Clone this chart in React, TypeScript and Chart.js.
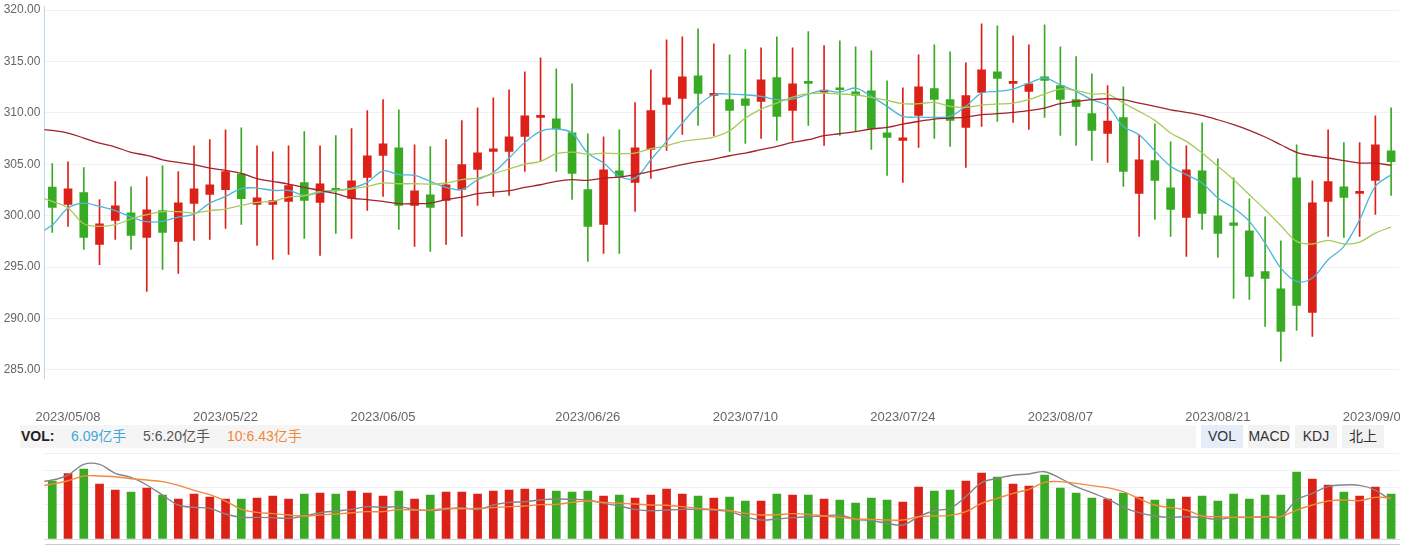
import React, { useEffect, useRef } from 'react';
import { Chart, registerables } from 'chart.js';

Chart.register(...registerables);

// ---------- data ----------
const DATE_TICK_INDEX = [1, 11, 21, 34, 44, 54, 64, 74, 84];
const DATE_LABELS = ['2023/05/08', '2023/05/22', '2023/06/05', '2023/06/26', '2023/07/10', '2023/07/24', '2023/08/07', '2023/08/21', '2023/09/04'];
const PRICE_TICKS = [285, 290, 295, 300, 305, 310, 315, 320];

const OPEN = [
  302.79, 301.10, 302.24, 297.21, 299.55, 300.29, 297.89, 300.49, 297.50, 301.20,
  302.07, 302.53, 304.08, 301.10, 301.10, 301.39, 303.21, 301.30, 302.62, 301.69,
  303.73, 305.87, 306.61, 301.00, 302.04, 301.49, 302.56, 304.50, 306.25, 306.25,
  307.71, 309.56, 309.43, 308.07, 302.53, 299.16, 304.37, 303.24, 306.45, 310.82,
  311.41, 313.61, 311.70, 311.28, 311.37, 311.11, 313.42, 310.24, 313.03, 312.02,
  312.35, 312.05, 312.15, 308.07, 307.32, 309.75, 312.35, 311.28, 308.59, 311.99,
  314.00, 312.86, 312.09, 313.51, 312.64, 311.28, 309.92, 308.00, 309.53, 302.17,
  305.35, 302.72, 299.84, 304.37, 300.00, 299.32, 298.54, 294.56, 292.90, 303.69,
  290.60, 301.39, 302.82, 302.17, 303.43, 306.32,
];
const HIGH = [
  305.06, 305.25, 304.67, 301.56, 303.31, 302.82, 303.79, 304.86, 304.28, 306.80,
  307.39, 308.36, 308.55, 306.80, 306.22, 306.80, 308.17, 306.80, 307.78, 308.46,
  310.21, 311.28, 310.30, 306.90, 306.71, 307.39, 309.24, 310.50, 311.47, 312.25,
  314.00, 315.36, 314.29, 312.83, 307.97, 307.68, 308.36, 310.99, 314.19, 317.11,
  317.40, 318.18, 316.72, 315.65, 316.14, 316.33, 317.40, 316.33, 317.89, 316.53,
  317.01, 316.43, 316.04, 313.12, 312.44, 315.65, 316.62, 315.94, 314.87, 318.66,
  318.47, 317.50, 316.62, 318.57, 316.43, 315.46, 313.80, 312.64, 312.54, 307.87,
  308.94, 307.19, 306.80, 309.04, 305.54, 303.69, 301.65, 299.90, 297.57, 306.90,
  303.40, 308.36, 307.10, 307.10, 309.72, 310.50,
];
const LOW = [
  298.38, 298.96, 296.73, 295.24, 297.70, 296.73, 292.64, 294.78, 294.39, 297.60,
  297.70, 298.77, 299.16, 297.12, 295.76, 296.24, 297.80, 296.14, 298.28, 297.80,
  300.52, 301.88, 298.67, 297.02, 296.53, 297.21, 297.99, 301.00, 301.88, 301.98,
  304.31, 305.28, 304.31, 301.59, 295.56, 296.34, 296.34, 300.42, 303.63, 306.35,
  307.91, 308.78, 307.78, 306.25, 307.03, 307.52, 307.32, 307.32, 308.78, 306.84,
  307.81, 308.17, 306.45, 303.92, 303.24, 306.64, 307.52, 306.74, 304.70, 308.68,
  309.17, 309.07, 308.39, 309.56, 307.81, 306.84, 305.38, 305.18, 302.85, 297.99,
  299.64, 297.99, 296.05, 298.67, 295.95, 291.96, 291.87, 289.24, 285.84, 288.85,
  288.27, 297.99, 297.89, 297.99, 300.13, 301.98,
];
const CLOSE = [
  300.81, 302.62, 297.89, 299.22, 300.97, 298.09, 300.58, 298.38, 301.26, 302.62,
  303.01, 304.28, 301.65, 301.75, 301.46, 302.92, 301.49, 303.11, 302.46, 303.40,
  305.83, 307.00, 301.00, 302.43, 300.81, 303.01, 304.96, 306.12, 306.51, 307.68,
  309.72, 309.72, 308.43, 304.12, 298.96, 304.47, 303.82, 306.61, 310.21, 311.47,
  313.51, 311.89, 311.83, 310.24, 310.73, 313.22, 309.66, 312.83, 312.86, 312.22,
  312.25, 311.70, 308.49, 307.62, 307.58, 312.54, 311.31, 309.27, 311.67, 314.19,
  313.35, 313.03, 312.83, 313.16, 311.31, 310.63, 308.30, 309.20, 304.31, 305.44,
  303.43, 300.62, 304.47, 300.23, 298.28, 299.06, 294.10, 293.91, 288.76, 291.28,
  301.26, 303.31, 301.78, 302.33, 306.90, 305.25,
];

// moving averages as drawn, starting one session before the first candle
const MA5 = [
  298.15,
  299.09, 300.75, 301.23, 300.91, 300.49, 299.87, 299.42, 299.45, 299.87, 300.16,
  301.23, 301.88, 302.64, 302.69, 302.46, 302.46, 301.98, 302.27, 302.43, 302.69,
  303.24, 304.37, 303.99, 303.92, 303.34, 302.75, 302.53, 303.50, 304.21, 305.61,
  307.13, 308.20, 308.43, 308.04, 306.09, 305.12, 303.82, 303.66, 305.44, 307.23,
  309.01, 310.70, 311.76, 311.83, 311.76, 311.60, 311.28, 311.34, 311.83, 312.18,
  312.02, 312.41, 311.60, 310.63, 309.66, 309.59, 309.56, 309.66, 310.63, 311.92,
  312.09, 312.31, 312.90, 313.38, 312.73, 312.09, 311.28, 310.69, 308.68, 307.87,
  306.30, 304.80, 303.99, 303.18, 301.72, 300.75, 299.45, 297.34, 294.91, 293.62,
  293.94, 295.72, 297.02, 299.61, 302.85, 303.99,
];
const MA10 = [
  301.88,
  301.39, 300.75, 299.22, 298.96, 299.13, 299.68, 300.10, 300.39, 300.39, 300.26,
  300.49, 300.65, 301.00, 301.30, 301.39, 301.81, 301.94, 302.37, 302.46, 302.62,
  302.85, 303.18, 303.11, 303.11, 303.08, 303.18, 303.50, 303.66, 304.08, 304.54,
  305.02, 305.28, 306.03, 306.19, 305.99, 306.09, 306.03, 306.09, 306.51, 306.80,
  307.23, 307.42, 307.65, 308.26, 309.49, 310.37, 310.95, 311.54, 311.86, 311.92,
  311.83, 311.76, 311.50, 311.21, 310.89, 310.89, 311.02, 310.63, 310.53, 310.76,
  310.86, 310.95, 311.28, 311.83, 312.31, 312.18, 311.83, 311.83, 310.95, 310.14,
  309.27, 308.04, 307.23, 306.09, 304.80, 303.50, 302.04, 300.58, 299.03, 297.50,
  297.25, 297.60, 297.25, 297.44, 298.31, 298.90,
];
const MA_LONG = [
  308.43,
  308.30, 308.04, 307.55, 307.06, 306.68, 306.16, 305.87, 305.44, 305.18, 304.96,
  304.63, 304.41, 304.12, 303.60, 303.34, 303.08, 302.75, 302.46, 302.14, 301.72,
  301.56, 301.39, 301.17, 301.17, 301.23, 301.56, 301.81, 302.14, 302.30, 302.43,
  302.75, 303.01, 303.34, 303.50, 303.43, 303.66, 303.76, 303.99, 304.31, 304.63,
  304.96, 305.25, 305.51, 305.83, 306.09, 306.42, 306.74, 307.13, 307.39, 307.78,
  307.97, 308.17, 308.43, 308.59, 308.91, 309.17, 309.40, 309.49, 309.59, 309.82,
  309.92, 310.05, 310.21, 310.47, 310.89, 311.11, 311.28, 311.37, 311.28, 310.95,
  310.63, 310.30, 310.05, 309.75, 309.33, 308.85, 308.30, 307.65, 306.90, 306.16,
  305.83, 305.61, 305.35, 305.12, 305.12, 304.89,
];

// volume, 亿手
const VOLUME = [
  7.85, 8.84, 9.47, 7.44, 6.63, 6.36, 6.90, 5.95, 5.41, 6.09,
  5.68, 5.41, 5.41, 5.55, 5.82, 5.41, 6.09, 6.22, 6.09, 6.50,
  6.22, 5.82, 6.50, 5.41, 5.95, 6.36, 6.36, 6.09, 6.50, 6.63,
  6.77, 6.77, 6.50, 6.36, 6.50, 5.82, 5.95, 5.55, 5.95, 6.77,
  6.09, 5.82, 5.55, 5.68, 5.14, 5.14, 6.09, 5.95, 5.95, 5.41,
  5.28, 4.87, 5.55, 5.28, 5.01, 7.04, 6.50, 6.63, 7.85, 8.93,
  8.39, 7.44, 7.17, 8.66, 6.90, 6.22, 5.55, 5.41, 6.22, 5.68,
  5.28, 5.41, 5.68, 5.82, 5.14, 6.09, 5.41, 5.95, 5.95, 9.07,
  8.12, 7.31, 6.36, 5.82, 7.04, 6.09,
];
const VOL_MA5 = [
  7.71,
  7.98, 8.66, 10.10, 10.10, 8.89, 8.34, 7.31, 5.95, 4.60, 4.29,
  4.15, 3.38, 2.93, 2.93, 2.89, 2.80, 3.11, 3.56, 3.79, 4.01,
  4.38, 4.29, 4.38, 4.01, 3.83, 4.01, 4.24, 4.00, 4.60, 4.96,
  5.05, 5.28, 5.41, 5.37, 5.28, 4.83, 4.47, 4.01, 3.83, 3.92,
  4.01, 4.01, 3.92, 3.70, 3.02, 2.57, 2.71, 2.89, 3.02, 3.11,
  3.25, 2.66, 2.48, 2.12, 1.89, 3.02, 3.83, 4.15, 5.73, 7.62,
  8.21, 8.62, 8.80, 9.11, 8.21, 7.08, 6.27, 5.41, 4.29, 3.56,
  3.11, 2.93, 3.02, 2.89, 2.66, 2.93, 2.93, 3.02, 3.02, 5.28,
  6.18, 7.08, 7.31, 7.26, 6.63, 5.19,
];
const VOL_MA10 = [
  7.08,
  7.44, 7.89, 8.53, 8.53, 8.43, 8.16, 7.98, 7.76, 7.26, 6.59,
  6.00, 5.14, 4.01, 3.61, 3.43, 3.25, 3.11, 3.25, 3.38, 3.56,
  3.70, 3.70, 3.97, 3.92, 3.92, 4.15, 4.10, 4.15, 4.24, 4.38,
  4.47, 4.65, 4.69, 4.96, 5.14, 4.96, 4.83, 4.74, 4.60, 4.56,
  4.38, 4.15, 4.01, 3.83, 3.47, 3.25, 3.29, 3.43, 3.34, 3.11,
  2.93, 2.71, 2.66, 2.57, 2.57, 3.02, 3.11, 3.20, 3.70, 4.83,
  5.50, 6.18, 6.72, 7.67, 7.76, 7.53, 7.22, 6.95, 6.41, 5.46,
  4.60, 4.24, 3.92, 3.11, 3.02, 2.93, 2.93, 3.02, 3.02, 3.92,
  4.60, 5.14, 5.28, 5.19, 5.64, 5.59,
];
const VOL_TICKS = [0, 2.32, 4.64, 6.96, 9.28, 11.6];

const HEADER_VOL = '6.09亿手';
const HEADER_MA5 = '5:6.20亿手';
const HEADER_MA10 = '10:6.43亿手';
const INDICATOR_TABS = ['VOL', 'MACD', 'KDJ', '北上'];

// ---------- styles ----------
const FONT = 'Arial, "Liberation Sans", "Noto Sans CJK SC", sans-serif';
const UP = '#DC2118';
const DOWN = '#39AA24';
const C_MA5 = '#4CB5DA';
const C_MA10 = '#A6CB5B';
const C_MALONG = '#A3222C';
const C_VMA5 = '#858585';
const C_VMA10 = '#F08A3E';
const GRID = '#EEF1F5';

const CANVAS_W = 1420;
const AXIS_W = 44.4;
const RIGHT_PAD = CANVAS_W - 1399;

const toPts = (arr: number[]) => arr.map((v, i) => ({ x: i - 1, y: v }));

export default function App() {
  const priceRef = useRef<HTMLCanvasElement>(null);
  const volRef = useRef<HTMLCanvasElement>(null);

  useEffect(() => {
    const colors = OPEN.map((o, i) => (CLOSE[i] >= o ? UP : DOWN));
    const wicks = OPEN.map((_, i) => ({ x: i, y: [LOW[i], HIGH[i]] }));
    const bodies = OPEN.map((o, i) => ({ x: i, y: [o, CLOSE[i]] }));

    const lineDs = (data: number[], color: string, width: number) => ({
      type: 'line' as const,
      data: toPts(data),
      borderColor: color,
      borderWidth: width,
      pointRadius: 0,
      tension: 0.35,
      fill: false,
      order: 0,
    });

    const price = new Chart(priceRef.current as HTMLCanvasElement, {
      type: 'bar',
      data: {
        datasets: [
          lineDs(MA_LONG, C_MALONG, 1.3),
          lineDs(MA10, C_MA10, 1.3),
          lineDs(MA5, C_MA5, 1.3),
          {
            type: 'bar',
            data: wicks,
            backgroundColor: colors,
            barThickness: 1,
            grouped: false,
            order: 2,
          } as any,
          {
            type: 'bar',
            data: bodies,
            backgroundColor: colors,
            barThickness: 8,
            minBarLength: 2,
            grouped: false,
            order: 1,
          } as any,
        ],
      },
      options: {
        responsive: false,
        animation: false,
        events: [],
        layout: { padding: { top: 6.7, right: RIGHT_PAD, left: 0, bottom: 0 } },
        plugins: { legend: { display: false }, tooltip: { enabled: false } },
        scales: {
          x: {
            type: 'linear',
            min: -0.5,
            max: 85.5,
            offset: false,
            afterBuildTicks: (s: any) => {
              s.ticks = DATE_TICK_INDEX.map((v) => ({ value: v }));
            },
            afterFit: (s: any) => {
              s.height = 47;
            },
            grid: {
              display: true,
              drawOnChartArea: false,
              drawTicks: true,
              tickLength: 29,
              tickColor: 'rgba(0,0,0,0)',
            },
            border: { display: false },
            ticks: {
              autoSkip: false,
              maxRotation: 0,
              padding: 3,
              color: '#666',
              font: { size: 13, family: FONT },
              callback: (v: any) => {
                const k = DATE_TICK_INDEX.indexOf(Number(v));
                return k >= 0 ? DATE_LABELS[k] : '';
              },
            },
          },
          y: {
            min: 284.222,
            max: 320.321,
            afterBuildTicks: (s: any) => {
              s.ticks = PRICE_TICKS.map((v) => ({ value: v }));
            },
            afterFit: (s: any) => {
              s.width = AXIS_W;
              s.paddingTop = 0;
              s.paddingBottom = 0;
            },
            grid: { color: GRID, drawTicks: false },
            border: { display: true, color: '#C3D5EA' },
            ticks: {
              padding: 4,
              color: '#666',
              font: { size: 12, family: FONT },
              callback: (v: any) => Number(v).toFixed(2),
            },
          },
        },
      },
    } as any);

    const vol = new Chart(volRef.current as HTMLCanvasElement, {
      type: 'bar',
      data: {
        datasets: [
          lineDs(VOL_MA10, C_VMA10, 1.4),
          lineDs(VOL_MA5, C_VMA5, 1.4),
          {
            type: 'bar',
            data: VOLUME.map((v, i) => ({ x: i, y: v })),
            backgroundColor: colors,
            barThickness: 8,
            order: 1,
          } as any,
        ],
      },
      options: {
        responsive: false,
        animation: false,
        events: [],
        layout: { padding: { top: 3.3, right: RIGHT_PAD, left: 0, bottom: 6 } },
        plugins: { legend: { display: false }, tooltip: { enabled: false } },
        scales: {
          x: {
            type: 'linear',
            min: -0.5,
            max: 85.5,
            offset: false,
            ticks: { display: false },
            grid: { display: true, drawOnChartArea: false, drawTicks: false },
            border: { display: true, color: '#D3DCE7' },
            afterFit: (s: any) => {
              s.height = 0;
            },
          },
          y: {
            min: 0,
            max: 11.6,
            afterBuildTicks: (s: any) => {
              s.ticks = VOL_TICKS.map((v) => ({ value: v }));
            },
            afterFit: (s: any) => {
              s.width = AXIS_W;
            },
            ticks: { display: false },
            grid: { color: GRID, drawTicks: false },
            border: { display: false },
          },
        },
      },
    } as any);

    return () => {
      price.destroy();
      vol.destroy();
    };
  }, []);

  const tabLeft = [1201, 1248, 1295, 1342];

  return (
    <div
      style={{
        position: 'absolute',
        left: 0,
        top: 0,
        width: 1400,
        height: 545,
        overflow: 'hidden',
        background: '#fff',
        fontFamily: FONT,
      }}
    >
      <canvas
        ref={priceRef}
        width={CANVAS_W}
        height={425}
        style={{ position: 'absolute', left: 0, top: 0, width: CANVAS_W, height: 425 }}
      />
      <div
        style={{
          position: 'absolute',
          left: 20,
          top: 425,
          width: 1176,
          height: 23,
          background: '#F5F5F5',
        }}
      />
      <span style={{ position: 'absolute', left: 21, top: 425, lineHeight: '23px', fontSize: 14, fontWeight: 'bold', color: '#222' }}>
        VOL:
      </span>
      <span style={{ position: 'absolute', left: 71, top: 425, lineHeight: '23px', fontSize: 14, color: '#3FA7DA' }}>
        {HEADER_VOL}
      </span>
      <span style={{ position: 'absolute', left: 143, top: 425, lineHeight: '23px', fontSize: 14, color: '#555' }}>
        {HEADER_MA5}
      </span>
      <span style={{ position: 'absolute', left: 227, top: 425, lineHeight: '23px', fontSize: 14, color: '#F0883A' }}>
        {HEADER_MA10}
      </span>
      {INDICATOR_TABS.map((t, i) => (
        <div
          key={t}
          style={{
            position: 'absolute',
            left: tabLeft[i],
            top: 425,
            width: 42,
            height: 23,
            lineHeight: '23px',
            textAlign: 'center',
            fontSize: 14,
            color: '#333',
            background: i === 0 ? '#E4EDF8' : '#F2F2F2',
          }}
        >
          {t}
        </div>
      ))}
      <canvas
        ref={volRef}
        width={CANVAS_W}
        height={95}
        style={{ position: 'absolute', left: 0, top: 450, width: CANVAS_W, height: 95 }}
      />
      <div style={{ position: 'absolute', left: 45, top: 544, width: 1355, height: 1, background: '#CCCCCC' }} />
    </div>
  );
}
